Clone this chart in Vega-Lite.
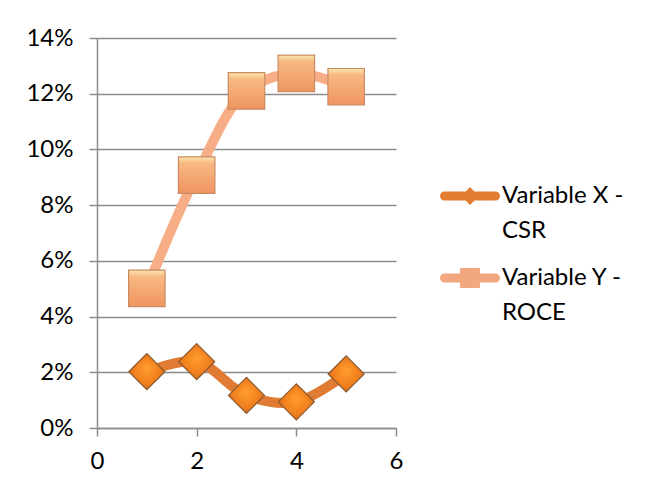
{
  "$schema": "https://vega.github.io/schema/vega-lite/v6.json",
  "width": 299,
  "height": 390,
  "autosize": {"type": "none"},
  "padding": {"left": 97, "top": 38, "right": 250, "bottom": 60},
  "background": "white",
  "config": {
    "font": "Lato",
    "view": {"stroke": null},
    "style": {"guide-label": {"lineHeight": 35}},
    "axis": {
      "labelFont": "Lato",
      "labelFontSize": 24,
      "labelColor": "#000000",
      "domainColor": "#8C8C8C",
      "domainWidth": 1.5,
      "tickColor": "#8C8C8C",
      "tickWidth": 1.5,
      "tickSize": 8,
      "gridColor": "#8C8C8C",
      "gridWidth": 1.5,
      "labelFlush": false,
      "title": null
    },
    "legend": {"labelFont": "Lato", "labelFontSize": 24, "labelColor": "#000000"}
  },
  "data": {
    "values": [
      {"x": 1, "v": 0.0202, "s": "Variable X -|CSR"},
      {"x": 2, "v": 0.0238, "s": "Variable X -|CSR"},
      {"x": 3, "v": 0.0117, "s": "Variable X -|CSR"},
      {"x": 4, "v": 0.0094, "s": "Variable X -|CSR"},
      {"x": 5, "v": 0.0194, "s": "Variable X -|CSR"},
      {"x": 1, "v": 0.0501, "s": "Variable Y -|ROCE"},
      {"x": 2, "v": 0.0908, "s": "Variable Y -|ROCE"},
      {"x": 3, "v": 0.121, "s": "Variable Y -|ROCE"},
      {"x": 4, "v": 0.1273, "s": "Variable Y -|ROCE"},
      {"x": 5, "v": 0.1225, "s": "Variable Y -|ROCE"}
    ]
  },
  "encoding": {
    "x": {
      "field": "x", "type": "quantitative",
      "scale": {"domain": [0, 6], "nice": false},
      "axis": {"values": [0, 2, 4, 6], "grid": false, "labelPadding": 13}
    },
    "y": {
      "field": "v", "type": "quantitative",
      "scale": {"domain": [0, 0.14], "nice": false},
      "axis": {"values": [0, 0.02, 0.04, 0.06, 0.08, 0.1, 0.12, 0.14], "format": ".0%", "grid": true, "labelPadding": 16}
    }
  },
  "layer": [
    {
      "transform": [{"filter": "datum.s == 'Variable X -|CSR'"}],
      "mark": {"type": "line", "interpolate": "catmull-rom", "strokeWidth": 10, "strokeCap": "round", "stroke": "#E07B33"},
      "encoding": {}
    },
    {
      "transform": [{"filter": "datum.s == 'Variable Y -|ROCE'"}],
      "mark": {"type": "line", "interpolate": "catmull-rom", "strokeWidth": 10, "strokeCap": "round", "stroke": "#F7AD86"},
      "encoding": {}
    },
    {
      "transform": [{"filter": "datum.s == 'Variable X -|CSR'"}],
      "mark": {"type": "point", "shape": "diamond", "size": 1300, "filled": true, "opacity": 1,
        "stroke": "#8A5A30", "strokeWidth": 1.2,
        "fill": {"gradient": "radial", "x1": 0.5, "y1": 0.4, "r1": 0, "x2": 0.5, "y2": 0.5, "r2": 0.6,
          "stops": [{"offset": 0, "color": "#FF9E2E"}, {"offset": 0.6, "color": "#F17F1E"}, {"offset": 1, "color": "#C8651A"}]}}
    },
    {
      "transform": [{"filter": "datum.s == 'Variable Y -|ROCE'"}],
      "mark": {"type": "point", "shape": "square", "size": 1330, "filled": true, "opacity": 1,
        "stroke": "#C98A62", "strokeWidth": 1.2,
        "fill": {"gradient": "linear", "x1": 0, "y1": 0, "x2": 0, "y2": 1,
          "stops": [{"offset": 0, "color": "#FBE7B0"}, {"offset": 0.18, "color": "#F8B882"}, {"offset": 1, "color": "#EF9560"}]}}
    },
    {
      "mark": {"type": "point", "filled": true, "fillOpacity": 0, "strokeOpacity": 0},
      "encoding": {
        "shape": {"field": "s", "type": "nominal",
          "scale": {"domain": ["Variable X -|CSR", "Variable Y -|ROCE"],
            "range": [
              "M-0.85,-0.15L0.85,-0.15A0.15,0.15,0,0,1,0.85,0.15L-0.85,0.15A0.15,0.15,0,0,1,-0.85,-0.15ZM0,-0.3L0.3,0L0,0.3L-0.3,0Z",
              "M-0.85,-0.15L0.85,-0.15A0.15,0.15,0,0,1,0.85,0.15L-0.85,0.15A0.15,0.15,0,0,1,-0.85,-0.15ZM-0.33,-0.33L0.33,-0.33L0.33,0.33L-0.33,0.33Z"
            ]},
          "legend": {
            "title": null, "orient": "none", "legendX": 343, "legendY": 128,
            "symbolSize": 3600, "symbolOpacity": 1, "symbolStrokeWidth": 0,
            "labelExpr": "split(datum.label, '|')", "labelOffset": 2, "rowPadding": 5, "padding": 0,
            "labelLimit": 300
          }
        },
        "fill": {"field": "s", "type": "nominal",
          "scale": {"domain": ["Variable X -|CSR", "Variable Y -|ROCE"], "range": ["#E27D33", "#F3A77E"]}}
      }
    }
  ]
}
